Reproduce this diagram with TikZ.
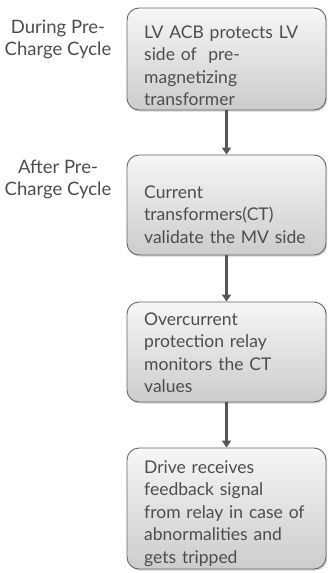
\documentclass[tikz,border=0pt]{standalone}
\usepackage{fontspec}
\setmainfont{Lato}
\usetikzlibrary{shadows,arrows.meta}
\definecolor{txt}{HTML}{4D4D4D}
\definecolor{edge}{HTML}{666666}
\definecolor{arr}{HTML}{555555}
\tikzset{
  flowbox/.style={draw=edge, line width=0.9pt, rounded corners=12pt,
    top color=gray!7, bottom color=gray!40,
    drop shadow={shadow xshift=1.2pt, shadow yshift=-1.5pt, opacity=0.35},
    minimum width=199pt, inner sep=0pt},
  boxtext/.style={anchor=north west, text width=190pt, align=left, text=txt,
    font=\fontsize{17.5}{22.5}\selectfont, inner sep=0pt},
  sidelabel/.style={anchor=north, align=center, text=txt,
    font=\fontsize{18.5}{22}\selectfont, inner sep=0pt},
  flowarrow/.style={draw=arr, line width=2.4pt, -{Triangle[length=7pt,width=9pt]}}
}
\begin{document}
\begin{tikzpicture}[x=1pt,y=-1pt]
\useasboundingbox (0,0) rectangle (329,573);
\node[flowbox, minimum height=102pt] (b1) at (226.5,59) {};
\node[flowbox, minimum height=100pt] (b2) at (226.5,205) {};
\node[flowbox, minimum height=100pt] (b3) at (226.5,352) {};
\node[flowbox, minimum height=121pt] (b4) at (226.5,508.5) {};
\node[boxtext] (t1) at (144,22.5) {\strut LV ACB protects LV\\side of\ \ pre-\\magnetizing\\transformer};
\node[boxtext] (t2) at (144,182.5) {\strut Current\\transformers(CT)\\validate the MV side};
\node[boxtext] (t3) at (144,309.5) {\strut Overcurrent\\protection relay\\monitors the CT\\values};
\node[boxtext] (t4) at (144,457.5) {\strut Drive receives\\feedback signal\\from relay in case of\\abnormalities and\\gets tripped};
\node[sidelabel] (l1) at (58,17.6) {\strut During Pre-\\Charge Cycle};
\node[sidelabel] (l2) at (58,157.6) {\strut After Pre-\\Charge Cycle};
\draw[flowarrow] (b1.south) -- (b2.north);
\draw[flowarrow] (b2.south) -- (b3.north);
\draw[flowarrow] (b3.south) -- (b4.north);
\end{tikzpicture}
\end{document}
